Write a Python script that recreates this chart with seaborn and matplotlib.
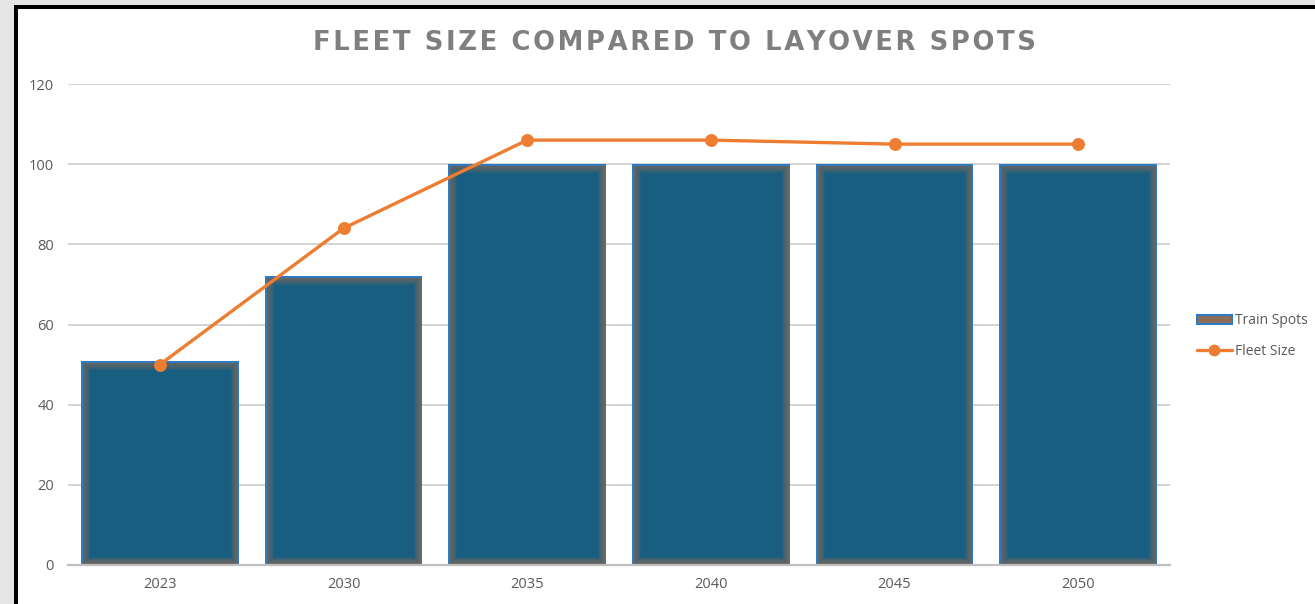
import matplotlib
matplotlib.use("Agg")
import matplotlib.pyplot as plt
import seaborn as sns
import pandas as pd
from matplotlib import patheffects as pe
from matplotlib.patches import Rectangle, Patch
from matplotlib.lines import Line2D

# ---- data ----
years = ["2023", "2030", "2035", "2040", "2045", "2050"]
train_spots = [51, 72, 100, 100, 100, 100]
fleet_size = [50, 84, 106, 106, 105, 105]
y_ticks = [0, 20, 40, 60, 80, 100, 120]
title = "FLEET SIZE COMPARED TO LAYOVER SPOTS"
legend_labels = ["Train Spots", "Fleet Size"]

df = pd.DataFrame({"year": years, "train": train_spots, "fleet": fleet_size})

sns.set_theme(style="white")
plt.rcParams["font.family"] = ["Open Sans", "DejaVu Sans"]

W, H = 1315, 604
fig = plt.figure(figsize=(W / 100, H / 100), dpi=100)
fig.patch.set_facecolor("#e6e6e6")
frame = Rectangle((16 / W, -0.1), 1.2, (H - 7) / H + 0.1, transform=fig.transFigure,
                  facecolor="white", edgecolor="black", linewidth=4 * 0.72, zorder=-1)
fig.patches.append(frame)

ax = fig.add_axes([68 / W, 39 / H, 1102 / W, 481 / H])
ax.set_zorder(2)
ax.set_facecolor("none")

BAR = "#185e81"
GLOW = "#8e6c58"
EDGE = "#2a7bc8"
ORANGE = "#ed7d31"
TXT = "#595959"

sns.barplot(data=df, x="year", y="train", color=BAR, saturation=1, width=0.86,
            edgecolor="none", linewidth=0, ax=ax, zorder=2)


class InnerStroke(pe.AbstractPathEffect):
    def __init__(self, lw, color, alpha=1.0):
        super().__init__()
        self.lw = lw
        self.color = color
        self.alpha = alpha

    def draw_path(self, renderer, gc, tpath, affine, rgbFace=None):
        gc0 = renderer.new_gc()
        gc0.copy_properties(gc)
        gc0.set_linewidth(self.lw)
        gc0.set_foreground(self.color)
        gc0.set_alpha(self.alpha)
        renderer.draw_path(gc0, tpath, affine, None)
        gc0.restore()


glow_widths = [12, 10.5, 9, 7.5, 6, 4.5, 3, 1.5]
for p in ax.patches:
    p.set_clip_path(p)
    p.set_path_effects([pe.Normal()]
                       + [InnerStroke(w, GLOW, 0.15) for w in glow_widths]
                       + [InnerStroke(2.0, EDGE, 1.0)])

sns.pointplot(data=df, x="year", y="fleet", color=ORANGE, markers="o", errorbar=None,
              markersize=7.5, linewidth=2.4, ax=ax, zorder=3)

ax.set_xlim(-0.5, len(years) - 0.5)
ax.set_ylim(0, 120)
ax.set_yticks(y_ticks)
ax.yaxis.grid(True, color="#d0d0d0", linewidth=1.3)
ax.set_axisbelow(True)
for s in ["top", "right", "left"]:
    ax.spines[s].set_visible(False)
ax.spines["bottom"].set_color("#bfbfbf")
ax.spines["bottom"].set_linewidth(1.6)
ax.tick_params(axis="both", length=0, labelsize=10.5, labelcolor=TXT)
ax.tick_params(axis="y", pad=10)
ax.tick_params(axis="x", pad=9)
ax.set_xlabel("")
ax.set_ylabel("")

spaced_title = "\u200a".join(title)
fig.text(674 / W, 1 - 43 / H, spaced_title, ha="center", va="center", fontsize=18.6,
         fontweight="bold", color="#7f7f7f", family="DejaVu Sans")

handles = [Patch(facecolor=GLOW, edgecolor=EDGE, linewidth=1.5),
           Line2D([], [], color=ORANGE, marker="o", linewidth=2.4, markersize=7.5)]
fig.legend(handles, legend_labels, loc="center left",
           bbox_to_anchor=(1197 / W, 1 - 336 / H), frameon=False, fontsize=10,
           labelcolor=TXT, handlelength=2.5, handleheight=0.65, handletextpad=0.25,
           labelspacing=1.1, borderpad=0, borderaxespad=0)

fig.savefig("out.png", dpi=100)
